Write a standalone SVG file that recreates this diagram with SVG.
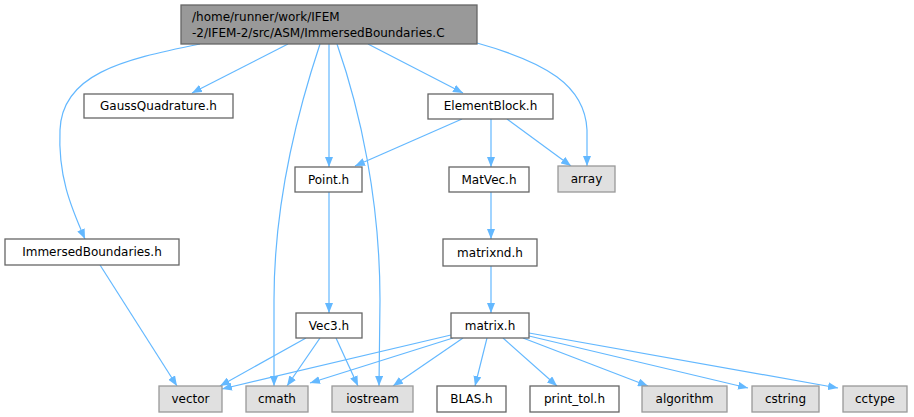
<svg xmlns="http://www.w3.org/2000/svg" width="914" height="417" viewBox="0 0 914 417">
<style>
.n rect{fill:#ffffff;stroke:#666666;stroke-width:1.3}
.s rect{fill:#e0e0e0;stroke:#999999;stroke-width:1.3}
.r rect{fill:#999999;stroke:#666666;stroke-width:1.3}
text{font-family:"DejaVu Sans",sans-serif;font-size:12px;fill:#000000}
.c{text-anchor:middle}
#edges path{fill:none;stroke:#63b8ff;stroke-width:1.2;marker-end:url(#ah)}
</style>
<defs>
<marker id="ah" markerUnits="userSpaceOnUse" markerWidth="11" markerHeight="8" refX="10" refY="4" orient="auto">
<path d="M0,0 L10,4 L0,8 z" fill="#63b8ff"/>
</marker>
</defs>
<rect width="914" height="417" fill="#ffffff"/>
<g id="edges">
<path d="M200,44 C120,60 62,75 60,130 C58,175 70,205 85,239"/>
<path d="M288,44 L192,93"/>
<path d="M320,44 C298,110 274,200 274,300 L274,386"/>
<path d="M329,44 L329,167"/>
<path d="M337,44 C360,110 380,200 380,300 L379,386"/>
<path d="M368,44 L463,93"/>
<path d="M477,43 C545,62 585,85 587,130 L587,166"/>
<path d="M462,119 L355,166"/>
<path d="M491,119 L491,167"/>
<path d="M507,119 L571,166"/>
<path d="M329,192 L329,313"/>
<path d="M491,192 L491,239"/>
<path d="M491,266 L491,313"/>
<path d="M100,265 L177,386"/>
<path d="M306,338 L220,386"/>
<path d="M320,338 L287,386"/>
<path d="M336,338 L358,386"/>
<path d="M451,335 L222,389"/>
<path d="M453,338 L310,383"/>
<path d="M463,338 L393,386"/>
<path d="M487,338 L475,386"/>
<path d="M503,338 L557,386"/>
<path d="M523,338 L648,386"/>
<path d="M529,336 L748,388"/>
<path d="M529,333 L838,388"/>
</g>
<g id="node_main" class="r"><rect x="181" y="5" width="296" height="39"/><text x="192" y="21">/home/runner/work/IFEM</text><text x="192" y="37">-2/IFEM-2/src/ASM/ImmersedBoundaries.C</text></g>
<g id="node_gauss" class="n"><rect x="84" y="94" width="149" height="24"/><text class="c" x="158.5" y="110">GaussQuadrature.h</text></g>
<g id="node_elementblock" class="n"><rect x="428" y="94" width="125" height="25"/><text class="c" x="490.5" y="110">ElementBlock.h</text></g>
<g id="node_point" class="n"><rect x="295" y="167" width="67" height="25"/><text class="c" x="328.5" y="184">Point.h</text></g>
<g id="node_matvec" class="n"><rect x="449" y="167" width="80" height="25"/><text class="c" x="489" y="184">MatVec.h</text></g>
<g id="node_array" class="s"><rect x="558" y="166" width="57" height="26"/><text class="c" x="586.5" y="183">array</text></g>
<g id="node_immersed" class="n"><rect x="5" y="239" width="174" height="26"/><text class="c" x="92" y="256">ImmersedBoundaries.h</text></g>
<g id="node_matrixnd" class="n"><rect x="443" y="239" width="94" height="27"/><text class="c" x="490" y="257">matrixnd.h</text></g>
<g id="node_vec3" class="n"><rect x="296" y="313" width="66" height="25"/><text class="c" x="329" y="330">Vec3.h</text></g>
<g id="node_matrix" class="n"><rect x="451" y="313" width="78" height="25"/><text class="c" x="490" y="330">matrix.h</text></g>
<g id="node_vector" class="s"><rect x="159" y="386" width="63" height="26"/><text class="c" x="190.5" y="403">vector</text></g>
<g id="node_cmath" class="s"><rect x="246" y="386" width="62" height="26"/><text class="c" x="277" y="403">cmath</text></g>
<g id="node_iostream" class="s"><rect x="332" y="386" width="81" height="26"/><text class="c" x="372.5" y="403">iostream</text></g>
<g id="node_blas" class="n"><rect x="437" y="386" width="69" height="26"/><text class="c" x="471.5" y="403">BLAS.h</text></g>
<g id="node_printtol" class="n"><rect x="530" y="386" width="89" height="26"/><text class="c" x="574.5" y="403">print_tol.h</text></g>
<g id="node_algorithm" class="s"><rect x="642" y="386" width="85" height="26"/><text class="c" x="684.5" y="403">algorithm</text></g>
<g id="node_cstring" class="s"><rect x="752" y="386" width="67" height="26"/><text class="c" x="785.5" y="403">cstring</text></g>
<g id="node_cctype" class="s"><rect x="843" y="386" width="64" height="26"/><text class="c" x="875" y="403">cctype</text></g>
</svg>
